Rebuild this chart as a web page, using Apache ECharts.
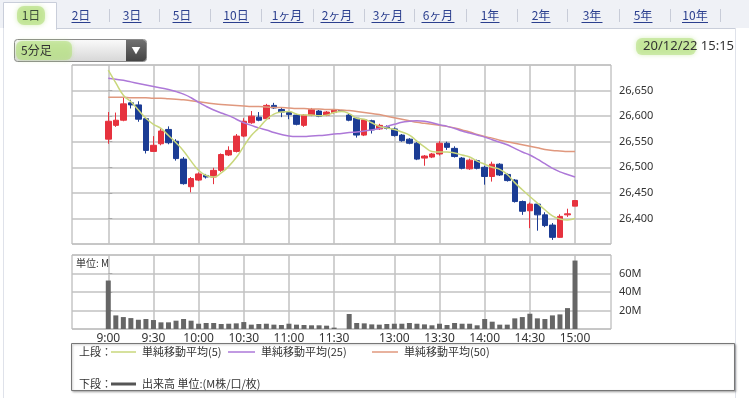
<!DOCTYPE html>
<html>
<head>
<meta charset="utf-8">
<script src="https://cdn.jsdelivr.net/npm/echarts@6/dist/echarts.min.js"></script>
<style>
html, body { margin: 0; padding: 0; background: #fff; }
#chart { width: 749px; height: 398px; }
</style>
</head>
<body>
<div id="chart"></div>
<script>
// 5分足 (slot 0 = 9:00 ... slot 62 = 15:00)
var opens  = [26555,26582,26592,26626,26622,26595,26531,26546,26574,26551,26516,26462,26475,26484,26481,26494,26524,26531,26561,26587,26598,26595,26621,26613,26607,26602,26582,26602,26610,26602,26607,26611,
              26602,26596,26563,26591,26575,26579,26575,26563,26555,26547,26518,26520,26526,26547,26537,26518,26497,26513,26500,26482,26506,26486,26475,26433,26415,26428,26407,26387,26363,26407,26424];
var closes = [26590,26592,26624,26622,26594,26533,26543,26571,26548,26517,26468,26478,26487,26481,26494,26525,26533,26561,26590,26600,26592,26621,26616,26608,26603,26584,26602,26613,26600,26608,26612,26610,
              26592,26563,26593,26573,26582,26576,26562,26552,26547,26516,26522,26526,26547,26539,26521,26498,26514,26498,26482,26506,26485,26474,26433,26414,26428,26407,26386,26363,26404,26409,26435];
var lows   = [26546,26579,26590,26615,26589,26527,26530,26543,26545,26513,26466,26451,26473,26478,26467,26491,26522,26529,26559,26585,26590,26593,26614,26598,26594,26582,26579,26600,26598,26600,26605,26609,
              26590,26558,26561,26566,26573,26574,26560,26550,26545,26514,26503,26518,26523,26534,26519,26496,26495,26496,26466,26472,26483,26472,26431,26407,26381,26376,26383,26358,26362,26403,26424];
var highs  = [26608,26607,26637,26632,26629,26597,26561,26577,26580,26555,26520,26481,26490,26487,26499,26527,26541,26565,26596,26610,26608,26624,26626,26616,26610,26604,26604,26616,26612,26610,26613,26612,
              26606,26597,26594,26593,26585,26582,26578,26565,26557,26549,26524,26528,26551,26550,26541,26520,26517,26515,26503,26511,26508,26488,26477,26435,26431,26430,26412,26391,26408,26419,26435];

var ma5  = [26690,26665,26641,26628,26612,26596,26584,26576,26562,26548,26532,26512,26494,26484,26481,26489,26502,26519,26541,26562,26577,26593,26604,26608,26609,26604,26602,26602,26601,26602,26607,26609,
            26605,26596,26594,26587,26580,26577,26574,26569,26563,26551,26540,26531,26530,26530,26528,26524,26520,26512,26506,26500,26496,26486,26470,26456,26443,26430,26417,26405,26399,26397,26400];
var ma25 = [26674,26672,26670,26667,26664,26661,26658,26655,26652,26648,26643,26636,26627,26619,26612,26606,26601,26594,26587,26582,26577,26573,26568,26564,26561,26560,26560,26561,26562,26563,26565,26566,
            26568,26569,26571,26573,26576,26580,26584,26588,26590,26591,26590,26587,26583,26580,26576,26571,26567,26563,26559,26554,26549,26544,26537,26530,26524,26516,26507,26498,26491,26486,26481];
var ma50 = [26637,26637,26637,26636,26636,26636,26635,26635,26634,26633,26632,26630,26628,26626,26624,26623,26622,26621,26620,26619,26619,26618,26617,26617,26616,26615,26615,26614,26614,26613,26613,26612,
            26611,26609,26607,26605,26603,26600,26597,26594,26591,26588,26586,26584,26582,26580,26577,26573,26569,26564,26560,26557,26553,26550,26547,26544,26541,26538,26535,26533,26532,26531,26531];

var volumes = [52.4,14.7,12.9,11.8,10.0,10.8,9.7,7.2,7.2,9.0,10.8,9.0,5.7,6.5,6.5,5.4,5.7,6.1,7.5,4.7,5.4,5.7,4.7,4.3,5.7,4.7,4.3,4.0,4.0,3.6,1.5,0,
               16.2,6.5,6.1,5.0,4.7,5.4,5.7,5.7,6.5,5.7,5.0,4.0,5.7,4.3,6.5,5.7,5.7,4.0,10.8,7.9,4.7,4.7,11.5,12.9,16.5,11.5,10.8,14.7,15.8,22.6,74.0];

var tickSlots  = [0, 6, 12, 18, 24, 30, 38, 44, 50, 56, 62];
var tickLabels = ['9:00','9:30','10:00','10:30','11:00','11:30','13:00','13:30','14:00','14:30','15:00'];

var tabNames = ['1日','2日','3日','5日','10日','1ヶ月','2ヶ月','3ヶ月','6ヶ月','1年','2年','3年','5年','10年'];

var UP = '#e6323e', DOWN = '#1b3c94';
var JP = '"Noto Sans CJK JP", "Noto Sans", sans-serif';

var candleData = opens.map(function (o, i) {
	return [i, o, closes[i], lows[i], highs[i]];
});
function pairs(arr) {
	return arr.map(function (v, i) { return [i, v]; });
}
function comma(v) {
	return String(v).replace(/\B(?=(\d{3})+(?!\d))/g, ',');
}

var chart = echarts.init(document.getElementById('chart'));

// tab bar
var tabCenters = [31, 81, 132, 182, 236, 287, 337, 388, 438, 490, 541, 592, 643, 695];
var tabWidths  = [19, 19, 19, 19, 26, 33, 33, 33, 33, 19, 19, 21, 19, 26];
var sepX = [109, 159, 210, 261, 313, 364, 414, 466, 517, 567, 619, 670, 720];

var graphics = [
	{ type: 'rect', shape: { x: 0, y: 0, width: 749, height: 28 }, style: { fill: '#eff1f6' }, silent: true },
	{ type: 'line', shape: { x1: 57, y1: 28.5, x2: 735, y2: 28.5 }, style: { stroke: '#c9ceda', lineWidth: 1 } },
	{ type: 'rect', shape: { x: 3.5, y: 2.5, width: 53, height: 27 }, style: { fill: '#fff', stroke: '#c9ceda', lineWidth: 1 } },
	{ type: 'rect', shape: { x: 4, y: 27, width: 52, height: 4 }, style: { fill: '#fff' } },
	{ type: 'line', shape: { x1: 3.5, y1: 28, x2: 3.5, y2: 398 }, style: { stroke: '#dfe2ea', lineWidth: 1 } },
	{ type: 'line', shape: { x1: 735.5, y1: 28, x2: 735.5, y2: 398 }, style: { stroke: '#dfe2ea', lineWidth: 1 } },
	{ type: 'rect', shape: { x: 17, y: 6, width: 28, height: 19, r: 7 }, style: { fill: 'rgba(176,222,120,0.6)', shadowBlur: 5, shadowColor: 'rgba(176,222,120,0.8)' } }
];

tabNames.forEach(function (name, i) {
	var cx = tabCenters[i], w = tabWidths[i];
	graphics.push({
		type: 'text', x: cx, y: 15,
		style: { text: name, font: '12px ' + JP, fill: i === 0 ? '#3a4a3a' : '#2b3f8e', align: 'center', verticalAlign: 'middle' }
	});
	if (i > 0) {
		graphics.push({ type: 'line', shape: { x1: cx - w / 2, y1: 22.5, x2: cx + w / 2, y2: 22.5 }, style: { stroke: '#2b3f8e', lineWidth: 1 } });
	}
});
sepX.forEach(function (x) {
	graphics.push({ type: 'line', shape: { x1: x + 0.5, y1: 9, x2: x + 0.5, y2: 22 }, style: { stroke: '#c8ccd8', lineWidth: 1 } });
});

// dropdown + date
graphics.push(
	{ type: 'rect', shape: { x: 14.5, y: 39.5, width: 132, height: 22, r: 3 },
	  style: { fill: new echarts.graphic.LinearGradient(0, 0, 0, 1, [{ offset: 0, color: '#fbfbfb' }, { offset: 1, color: '#d6d6d6' }]), stroke: '#8a8a8a', lineWidth: 1 } },
	{ type: 'rect', shape: { x: 126, y: 40, width: 20, height: 21, r: [0, 3, 3, 0] },
	  style: { fill: new echarts.graphic.LinearGradient(0, 0, 0, 1, [{ offset: 0, color: '#707070' }, { offset: 1, color: '#444' }]) } },
	{ type: 'text', x: 136, y: 50.5, style: { text: '▼', font: '9px ' + JP, fill: '#fff', align: 'center', verticalAlign: 'middle' } },
	{ type: 'rect', shape: { x: 16, y: 41, width: 56, height: 19, r: 6 }, style: { fill: 'rgba(176,222,120,0.55)', shadowBlur: 5, shadowColor: 'rgba(176,222,120,0.8)' } },
	{ type: 'text', x: 21, y: 50.5, style: { text: '5分足', font: '12px ' + JP, fill: '#333', verticalAlign: 'middle' } },
	{ type: 'rect', shape: { x: 636, y: 38, width: 60, height: 17, r: 6 }, style: { fill: 'rgba(176,222,120,0.55)', shadowBlur: 5, shadowColor: 'rgba(176,222,120,0.8)' } },
	{ type: 'text', x: 734, y: 46.5, style: { text: '20/12/22 15:15', font: '13px "Noto Sans", sans-serif', fill: '#333', align: 'right', verticalAlign: 'middle' } },
	{ type: 'text', x: 76, y: 263, style: { text: '単位: M', font: '10px ' + JP, fill: '#333', verticalAlign: 'middle' } }
);

// legend box
graphics.push(
	{ type: 'rect', shape: { x: 71.5, y: 343.5, width: 663, height: 47 },
	  style: { fill: '#fff', stroke: '#777', lineWidth: 1, shadowBlur: 2, shadowOffsetX: 1, shadowOffsetY: 1, shadowColor: 'rgba(0,0,0,0.25)' } },
	{ type: 'text', x: 79, y: 352, style: { text: '上段：', font: '11px ' + JP, fill: '#333', verticalAlign: 'middle' } },
	{ type: 'line', shape: { x1: 111, y1: 352, x2: 136, y2: 352 }, style: { stroke: '#c9d77c', lineWidth: 1.5 } },
	{ type: 'text', x: 142, y: 352, style: { text: '単純移動平均(5)', font: '11px ' + JP, fill: '#333', verticalAlign: 'middle' } },
	{ type: 'line', shape: { x1: 228, y1: 352, x2: 255, y2: 352 }, style: { stroke: '#ad78d8', lineWidth: 1.5 } },
	{ type: 'text', x: 261, y: 352, style: { text: '単純移動平均(25)', font: '11px ' + JP, fill: '#333', verticalAlign: 'middle' } },
	{ type: 'line', shape: { x1: 372, y1: 352, x2: 398, y2: 352 }, style: { stroke: '#e0987e', lineWidth: 1.5 } },
	{ type: 'text', x: 404, y: 352, style: { text: '単純移動平均(50)', font: '11px ' + JP, fill: '#333', verticalAlign: 'middle' } },
	{ type: 'text', x: 79, y: 384, style: { text: '下段：', font: '11px ' + JP, fill: '#333', verticalAlign: 'middle' } },
	{ type: 'line', shape: { x1: 111, y1: 384, x2: 136, y2: 384 }, style: { stroke: '#555', lineWidth: 3 } },
	{ type: 'text', x: 142, y: 384, style: { text: '出来高 単位:(M株/口/枚)', font: '11px ' + JP, fill: '#333', verticalAlign: 'middle' } }
);

var gridLine = { show: true, lineStyle: { color: '#c2c2c2', width: 1.5 } };

function xAxisFor(gridIndex, showLabels) {
	return {
		type: 'value', gridIndex: gridIndex, min: -4.82, max: 66.78,
		axisLine: { show: false },
		axisTick: { show: false, customValues: tickSlots },
		splitLine: gridLine,
		axisLabel: {
			show: showLabels, customValues: tickSlots, margin: 4,
			color: '#333', fontSize: 12, fontFamily: 'Noto Sans',
			formatter: function (v) { return tickLabels[tickSlots.indexOf(Math.round(v))] || ''; }
		}
	};
}

chart.setOption({
	animation: false,
	backgroundColor: '#fff',
	grid: [
		{ left: 72, top: 65, width: 539, height: 179, show: true, borderColor: '#aaa', borderWidth: 1 },
		{ left: 72, top: 255, width: 539, height: 74, show: true, borderColor: '#aaa', borderWidth: 1 }
	],
	xAxis: [xAxisFor(0, false), xAxisFor(1, true)],
	yAxis: [
		{
			type: 'value', gridIndex: 0, position: 'right', min: 26350, max: 26700, interval: 50,
			axisLine: { show: false },
			axisTick: { show: true, length: 4, lineStyle: { color: '#aaa' } },
			splitLine: gridLine,
			axisLabel: { showMinLabel: false, showMaxLabel: false, margin: 8, color: '#333', fontSize: 11, fontFamily: 'Noto Sans', formatter: comma }
		},
		{
			type: 'value', gridIndex: 1, position: 'right', min: 0, max: 80, interval: 20,
			axisLine: { show: false },
			axisTick: { show: true, length: 4, lineStyle: { color: '#aaa' } },
			splitLine: gridLine,
			axisLabel: { showMinLabel: false, showMaxLabel: false, margin: 8, color: '#333', fontSize: 11, fontFamily: 'Noto Sans',
				formatter: function (v) { return v + 'M'; } }
		}
	],
	series: [
		{
			type: 'candlestick', xAxisIndex: 0, yAxisIndex: 0,
			data: candleData, encode: { x: 0, y: [1, 2, 3, 4] },
			barWidth: 6,
			itemStyle: { color: UP, color0: DOWN, borderColor: UP, borderColor0: DOWN, borderWidth: 1 }
		},
		{ type: 'line', name: '単純移動平均(50)', data: pairs(ma50), symbol: 'none', smooth: true, lineStyle: { color: '#e0987e', width: 1.5 } },
		{ type: 'line', name: '単純移動平均(25)', data: pairs(ma25), symbol: 'none', smooth: true, lineStyle: { color: '#ad78d8', width: 1.5 } },
		{ type: 'line', name: '単純移動平均(5)', data: pairs(ma5), symbol: 'none', smooth: true, lineStyle: { color: '#c9d77c', width: 1.5 } },
		{
			type: 'bar', xAxisIndex: 1, yAxisIndex: 1, data: pairs(volumes), barWidth: 5,
			itemStyle: { color: '#666' }
		}
	],
	graphic: graphics
});
</script>
</body>
</html>
